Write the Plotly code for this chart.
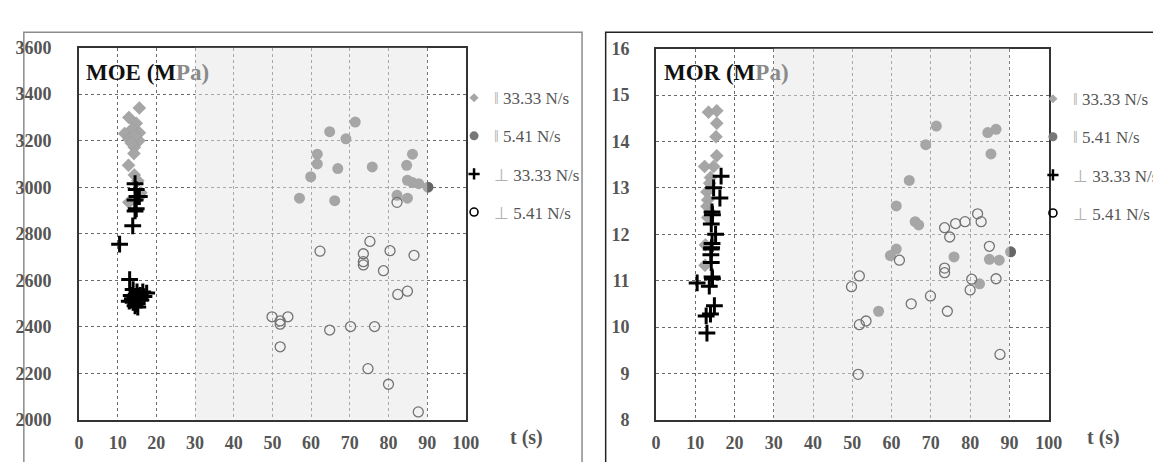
import plotly.graph_objects as go

# ---------------- DATA ----------------
x_ticks = [0, 10, 20, 30, 40, 50, 60, 70, 80, 90, 100]
moe_ticks = [2000, 2200, 2400, 2600, 2800, 3000, 3200, 3400, 3600]
mor_ticks = [8, 9, 10, 11, 12, 13, 14, 15, 16]

series_names = ["‖ 33.33 N/s", "‖ 5.41 N/s", "⊥ 33.33 N/s", "⊥ 5.41 N/s"]

# MOE, parallel 33.33 N/s (diamonds)
moe_p33_t = [15.6, 12.9, 14.8, 13.7, 11.8, 15.6, 12.9, 15.5, 14.3, 14.2, 12.8, 14.3, 15.2, 16.0, 12.9, 15.8, 14.5, 13.5]
moe_p33_v = [3341, 3300, 3275, 3250, 3231, 3234, 3207, 3200, 3172, 3145, 3094, 3053, 3028, 2976, 2935, 2960, 3220, 3190]
# MOE, parallel 5.41 N/s (filled circles)
moe_p5_t = [71.4, 64.8, 69.0, 61.6, 61.6, 66.9, 59.9, 75.8, 86.2, 84.7, 84.9, 86.2, 87.8, 90.2, 57.0, 66.1, 82.2, 84.9]
moe_p5_v = [3280, 3239, 3208, 3142, 3100, 3080, 3045, 3087, 3142, 3094, 3030, 3020, 3015, 3000, 2953, 2942, 2965, 2953]
# MOE, perpendicular 33.33 N/s (plus)
moe_q33_t = [14.5, 14.8, 15.0, 15.6, 14.5, 14.8, 14.5, 13.9, 10.5, 13.1,
             14.0, 15.0, 16.5, 17.5, 13.5, 14.5, 15.5, 16.0, 13.0, 14.0, 15.0, 14.5, 15.8, 16.8, 13.8, 15.2]
moe_q33_v = [3015, 2990, 2960, 2960, 2945, 2907, 2898, 2834, 2755, 2603,
             2560, 2550, 2550, 2545, 2535, 2530, 2525, 2515, 2510, 2505, 2500, 2490, 2535, 2530, 2520, 2485]
# MOE, perpendicular 5.41 N/s (open circles)
moe_q5_t = [82.2, 75.2, 62.3, 73.5, 73.5, 73.5, 80.4, 86.6, 78.7, 82.4, 84.9, 49.9, 52.0, 52.0, 54.0, 52.0, 64.8, 70.2, 76.4, 74.7, 80.0, 87.7]
moe_q5_v = [2935, 2767, 2725, 2714, 2680, 2666, 2727, 2707, 2641, 2539, 2553, 2443, 2425, 2411, 2443, 2314, 2386, 2401, 2401, 2220, 2153, 2034]

# MOR, parallel 33.33 N/s (diamonds)
mor_p33_t = [13.4, 15.5, 15.5, 15.3, 15.5, 12.4, 14.7, 13.9, 13.7, 13.0, 13.2, 13.0, 13.9, 13.2, 12.6, 12.5]
mor_p33_v = [14.63, 14.66, 14.39, 14.10, 13.69, 13.46, 13.46, 13.22, 13.10, 12.91, 12.74, 12.60, 12.47, 12.36, 11.77, 11.33]
# MOR, parallel 5.41 N/s (filled circles)
mor_p5_t = [71.4, 84.5, 86.6, 68.7, 85.3, 64.5, 61.2, 66.0, 66.9, 61.2, 59.7, 75.9, 84.9, 87.4, 90.3, 82.4, 56.7]
mor_p5_v = [14.33, 14.19, 14.26, 13.93, 13.73, 13.16, 12.61, 12.27, 12.20, 11.68, 11.54, 11.51, 11.46, 11.44, 11.62, 10.93, 10.34]
# MOR, perpendicular 33.33 N/s (plus)
mor_q33_t = [16.6, 14.7, 16.3, 14.3, 14.4, 14.1, 15.2, 14.3, 14.1, 14.0, 14.1, 14.3, 14.4, 10.5, 13.6, 14.9, 13.9, 12.8, 13.0, 14.2]
mor_q33_v = [13.25, 13.00, 12.78, 12.48, 12.42, 12.22, 12.00, 11.80, 11.68, 11.56, 11.39, 11.08, 11.04, 10.95, 10.88, 10.46, 10.28, 10.24, 9.87, 11.71]
# MOR, perpendicular 5.41 N/s (open circles)
mor_q5_t = [81.9, 82.8, 78.7, 76.3, 73.5, 74.8, 84.9, 62.0, 73.5, 73.5, 80.4, 86.6, 80.0, 51.8, 49.8, 69.9, 65.0, 74.2, 53.5, 51.8, 87.6, 51.5]
mor_q5_v = [12.44, 12.27, 12.27, 12.23, 12.14, 11.94, 11.74, 11.44, 11.27, 11.17, 11.03, 11.04, 10.80, 11.10, 10.87, 10.67, 10.50, 10.34, 10.13, 10.05, 9.41, 8.98]

# ---------------- STYLE ----------------
W, H = 1161, 462
SERIF = "Liberation Serif"

def px_x(p):
    return p / W

def px_y(p):
    return (H - p) / H

marker_styles = [
    dict(symbol="diamond", size=10, color="#a6a6a6", line=dict(color="#999999", width=0.5)),
    dict(symbol="circle", size=11, color="#666666", line=dict(width=0)),
    dict(symbol="cross-thin", size=12, color="black", line=dict(color="black", width=3)),
    dict(symbol="circle-open", size=10, color="black", line=dict(color="black", width=1.3)),
]
legend_marker_styles = [
    dict(symbol="diamond", size=7, color="#a6a6a6", line=dict(width=0)),
    dict(symbol="circle", size=9, color="#777777", line=dict(width=0)),
    dict(symbol="cross-thin", size=8, color="black", line=dict(color="black", width=2.5)),
    dict(symbol="circle-open", size=8, color="black", line=dict(color="black", width=1.6)),
]

def legend_label(name):
    sym, rest = name.split(" ", 1)
    return f"<span style='color:#b0b0b0'>{sym}</span> {rest}"

fig = go.Figure()

panels = [
    ("x", "y", "legend", [(moe_p33_t, moe_p33_v), (moe_p5_t, moe_p5_v), (moe_q33_t, moe_q33_v), (moe_q5_t, moe_q5_v)]),
    ("x2", "y2", "legend2", [(mor_p33_t, mor_p33_v), (mor_p5_t, mor_p5_v), (mor_q33_t, mor_q33_v), (mor_q5_t, mor_q5_v)]),
]

for xa, ya, lg, data in panels:
    for i, (tt, vv) in enumerate(data):
        fig.add_trace(go.Scatter(
            x=tt, y=vv, mode="markers", xaxis=xa, yaxis=ya,
            name=series_names[i], showlegend=False,
            marker=marker_styles[i], cliponaxis=False,
        ))
    # legend entries (small symbols as in the original legend)
    for i in range(4):
        fig.add_trace(go.Scatter(
            x=[None], y=[None], mode="markers", xaxis=xa, yaxis=ya,
            name=legend_label(series_names[i]), legend=lg,
            legendgroup=f"{lg}_{i}", marker=legend_marker_styles[i],
        ))

axis_common = dict(
    showline=True, mirror=True, linecolor="#333333", linewidth=1.5,
    showgrid=True, gridcolor="#6a6a6a", gridwidth=1, griddash="3px,3px",
    zeroline=False, ticks="",
    tickfont=dict(family=SERIF, size=18, color="#555555", weight="bold"),
)

legend_common = dict(xanchor="left", yanchor="top", bgcolor="rgba(0,0,0,0)",
                     borderwidth=0, tracegroupgap=13,
                     font=dict(family=SERIF, size=17, color="#555555"))

fig.update_layout(
    width=W, height=H,
    margin=dict(l=0, r=0, t=0, b=0),
    paper_bgcolor="white", plot_bgcolor="white",
    showlegend=True,
    xaxis=dict(axis_common, domain=[px_x(67), px_x(460)], range=[0, 100], tickvals=x_ticks,
               anchor="y", ticklabelstandoff=6),
    yaxis=dict(axis_common, domain=[px_y(420), px_y(31)], range=[2000, 3600], tickvals=moe_ticks,
               anchor="x", ticklabelstandoff=22),
    xaxis2=dict(axis_common, domain=[px_x(653), px_x(1052)], range=[0, 100], tickvals=x_ticks,
                anchor="y2", ticklabelstandoff=6),
    yaxis2=dict(axis_common, domain=[px_y(420), px_y(32)], range=[8, 16], tickvals=mor_ticks,
                anchor="x2", ticklabelstandoff=21),
    legend=dict(legend_common, x=px_x(448), y=px_y(65)),
    legend2=dict(legend_common, x=px_x(1036), y=px_y(66)),
)

# shaded (semi-transparent) band from t=30 to t=90 drawn above the points
for xr, yr in [("x", "y domain"), ("x2", "y2 domain")]:
    fig.add_shape(type="rect", xref=xr, yref=yr, x0=30, x1=90, y0=0, y1=1,
                  fillcolor="rgba(230,230,230,0.5)", line=dict(width=0), layer="above")

# outer frames of the two panels
fig.add_shape(type="rect", xref="paper", yref="paper", x0=px_x(11), x1=px_x(578),
              y0=-0.2, y1=px_y(15), line=dict(color="#8c8c8c", width=1.5), layer="below")
fig.add_shape(type="rect", xref="paper", yref="paper", x0=px_x(602), x1=1.2,
              y0=-0.2, y1=px_y(15), line=dict(color="#222222", width=1.5), layer="below")

# panel titles
for x0, label in [(72, "MOE (M"), (659, "MOR (M")]:
    fig.add_annotation(xref="paper", yref="paper", x=px_x(x0), y=px_y(57),
                       xanchor="left", yanchor="middle", showarrow=False,
                       text=f"<b>{label}<span style='color:#8a8a8a'>Pa)</span></b>",
                       font=dict(family=SERIF, size=23, color="#111111"))

# axis titles "t (s)"
for xc in [522, 1108]:
    fig.add_annotation(xref="paper", yref="paper", x=px_x(xc), y=px_y(438),
                       xanchor="center", yanchor="middle", showarrow=False,
                       text="<b>t (s)</b>", font=dict(family=SERIF, size=20, color="#555555"))

fig.write_html("out.html")
